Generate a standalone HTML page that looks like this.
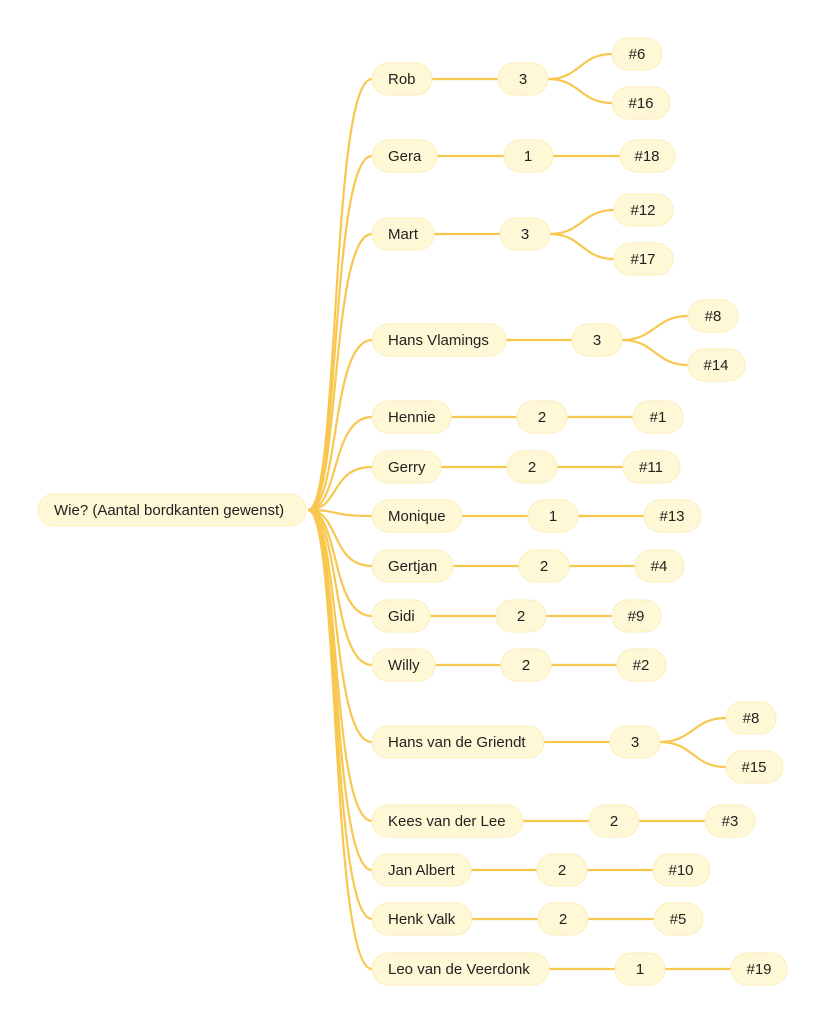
<!DOCTYPE html>
<html><head><meta charset="utf-8"><style>
html,body{margin:0;padding:0;background:#fff;}
svg text{font-family:"Liberation Sans",Arial,sans-serif;font-size:15px;fill:#222;}
.n{fill:#fff8d6;stroke:#fbeeb8;stroke-width:1;}
.e{fill:none;stroke:#f8c74f;stroke-width:2.2;}
</style></head><body>
<svg width="826" height="1024" viewBox="0 0 826 1024" xmlns="http://www.w3.org/2000/svg">
<g class="e">
<path d="M308 510 C340 510 330 79 372 79"/>
<path d="M308 510 C340 510 330 156 372 156"/>
<path d="M308 510 C340 510 330 234 372 234"/>
<path d="M308 510 C340 510 330 340 372 340"/>
<path d="M308 510 C340 510 330 417 372 417"/>
<path d="M308 510 C340 510 330 467 372 467"/>
<path d="M308 510 C340 510 330 516 372 516"/>
<path d="M308 510 C340 510 330 566 372 566"/>
<path d="M308 510 C340 510 330 616 372 616"/>
<path d="M308 510 C340 510 330 665 372 665"/>
<path d="M308 510 C340 510 330 742 372 742"/>
<path d="M308 510 C340 510 330 821 372 821"/>
<path d="M308 510 C340 510 330 870 372 870"/>
<path d="M308 510 C340 510 330 919 372 919"/>
<path d="M308 510 C340 510 330 969 372 969"/>
<path d="M432 79H498"/><path d="M548 79C580 79 580 54 612 54"/><path d="M548 79C580 79 580 103 612 103"/>
<path d="M437 156H504M553 156H620"/>
<path d="M434 234H500"/><path d="M550 234C582 234 582 210 614 210"/><path d="M550 234C582 234 582 259 614 259"/>
<path d="M506 340H572"/><path d="M622 340C655 340 655 316 688 316"/><path d="M622 340C655 340 655 365 688 365"/>
<path d="M451 417H517M567 417H633"/>
<path d="M441 467H507M557 467H623"/>
<path d="M462 516H528M578 516H644"/>
<path d="M453 566H519M569 566H635"/>
<path d="M430 616H496M546 616H612"/>
<path d="M435 665H501M551 665H617"/>
<path d="M544 742H610"/><path d="M660 742C693 742 693 718 726 718"/><path d="M660 742C693 742 693 767 726 767"/>
<path d="M523 821H589M639 821H705"/>
<path d="M471 870H537M587 870H653"/>
<path d="M472 919H538M588 919H654"/>
<path d="M549 969H615M665 969H731"/>
</g>
<rect class="n" x="38" y="494" width="268" height="32" rx="16"/><text x="54" y="515">Wie? (Aantal bordkanten gewenst)</text>

<rect class="n" x="372" y="63" width="60" height="32" rx="16"/><text x="388" y="84">Rob</text>
<rect class="n" x="498" y="63" width="50" height="32" rx="16"/><text x="523" y="84" text-anchor="middle">3</text>
<rect class="n" x="612" y="38" width="50" height="32" rx="16"/><text x="637" y="59" text-anchor="middle">#6</text>
<rect class="n" x="612" y="87" width="58" height="32" rx="16"/><text x="641" y="108" text-anchor="middle">#16</text>

<rect class="n" x="372" y="140" width="65" height="32" rx="16"/><text x="388" y="161">Gera</text>
<rect class="n" x="504" y="140" width="49" height="32" rx="16"/><text x="528" y="161" text-anchor="middle">1</text>
<rect class="n" x="620" y="140" width="55" height="32" rx="16"/><text x="647" y="161" text-anchor="middle">#18</text>

<rect class="n" x="372" y="218" width="62" height="32" rx="16"/><text x="388" y="239">Mart</text>
<rect class="n" x="500" y="218" width="50" height="32" rx="16"/><text x="525" y="239" text-anchor="middle">3</text>
<rect class="n" x="614" y="194" width="59" height="32" rx="16"/><text x="643" y="215" text-anchor="middle">#12</text>
<rect class="n" x="614" y="243" width="59" height="32" rx="16"/><text x="643" y="264" text-anchor="middle">#17</text>

<rect class="n" x="372" y="324" width="134" height="32" rx="16"/><text x="388" y="345">Hans Vlamings</text>
<rect class="n" x="572" y="324" width="50" height="32" rx="16"/><text x="597" y="345" text-anchor="middle">3</text>
<rect class="n" x="688" y="300" width="50" height="32" rx="16"/><text x="713" y="321" text-anchor="middle">#8</text>
<rect class="n" x="688" y="349" width="57" height="32" rx="16"/><text x="716" y="370" text-anchor="middle">#14</text>

<rect class="n" x="372" y="401" width="79" height="32" rx="16"/><text x="388" y="422">Hennie</text>
<rect class="n" x="517" y="401" width="50" height="32" rx="16"/><text x="542" y="422" text-anchor="middle">2</text>
<rect class="n" x="633" y="401" width="50" height="32" rx="16"/><text x="658" y="422" text-anchor="middle">#1</text>

<rect class="n" x="372" y="451" width="69" height="32" rx="16"/><text x="388" y="472">Gerry</text>
<rect class="n" x="507" y="451" width="50" height="32" rx="16"/><text x="532" y="472" text-anchor="middle">2</text>
<rect class="n" x="623" y="451" width="57" height="32" rx="16"/><text x="651" y="472" text-anchor="middle">#11</text>

<rect class="n" x="372" y="500" width="90" height="32" rx="16"/><text x="388" y="521">Monique</text>
<rect class="n" x="528" y="500" width="50" height="32" rx="16"/><text x="553" y="521" text-anchor="middle">1</text>
<rect class="n" x="644" y="500" width="57" height="32" rx="16"/><text x="672" y="521" text-anchor="middle">#13</text>

<rect class="n" x="372" y="550" width="81" height="32" rx="16"/><text x="388" y="571">Gertjan</text>
<rect class="n" x="519" y="550" width="50" height="32" rx="16"/><text x="544" y="571" text-anchor="middle">2</text>
<rect class="n" x="635" y="550" width="49" height="32" rx="16"/><text x="659" y="571" text-anchor="middle">#4</text>

<rect class="n" x="372" y="600" width="58" height="32" rx="16"/><text x="388" y="621">Gidi</text>
<rect class="n" x="496" y="600" width="50" height="32" rx="16"/><text x="521" y="621" text-anchor="middle">2</text>
<rect class="n" x="612" y="600" width="49" height="32" rx="16"/><text x="636" y="621" text-anchor="middle">#9</text>

<rect class="n" x="372" y="649" width="63" height="32" rx="16"/><text x="388" y="670">Willy</text>
<rect class="n" x="501" y="649" width="50" height="32" rx="16"/><text x="526" y="670" text-anchor="middle">2</text>
<rect class="n" x="617" y="649" width="49" height="32" rx="16"/><text x="641" y="670" text-anchor="middle">#2</text>

<rect class="n" x="372" y="726" width="172" height="32" rx="16"/><text x="388" y="747">Hans van de Griendt</text>
<rect class="n" x="610" y="726" width="50" height="32" rx="16"/><text x="635" y="747" text-anchor="middle">3</text>
<rect class="n" x="726" y="702" width="50" height="32" rx="16"/><text x="751" y="723" text-anchor="middle">#8</text>
<rect class="n" x="726" y="751" width="57" height="32" rx="16"/><text x="754" y="772" text-anchor="middle">#15</text>

<rect class="n" x="372" y="805" width="151" height="32" rx="16"/><text x="388" y="826">Kees van der Lee</text>
<rect class="n" x="589" y="805" width="50" height="32" rx="16"/><text x="614" y="826" text-anchor="middle">2</text>
<rect class="n" x="705" y="805" width="50" height="32" rx="16"/><text x="730" y="826" text-anchor="middle">#3</text>

<rect class="n" x="372" y="854" width="99" height="32" rx="16"/><text x="388" y="875">Jan Albert</text>
<rect class="n" x="537" y="854" width="50" height="32" rx="16"/><text x="562" y="875" text-anchor="middle">2</text>
<rect class="n" x="653" y="854" width="57" height="32" rx="16"/><text x="681" y="875" text-anchor="middle">#10</text>

<rect class="n" x="372" y="903" width="100" height="32" rx="16"/><text x="388" y="924">Henk Valk</text>
<rect class="n" x="538" y="903" width="50" height="32" rx="16"/><text x="563" y="924" text-anchor="middle">2</text>
<rect class="n" x="654" y="903" width="49" height="32" rx="16"/><text x="678" y="924" text-anchor="middle">#5</text>

<rect class="n" x="372" y="953" width="177" height="32" rx="16"/><text x="388" y="974">Leo van de Veerdonk</text>
<rect class="n" x="615" y="953" width="50" height="32" rx="16"/><text x="640" y="974" text-anchor="middle">1</text>
<rect class="n" x="731" y="953" width="56" height="32" rx="16"/><text x="759" y="974" text-anchor="middle">#19</text>
</svg>
</body></html>
